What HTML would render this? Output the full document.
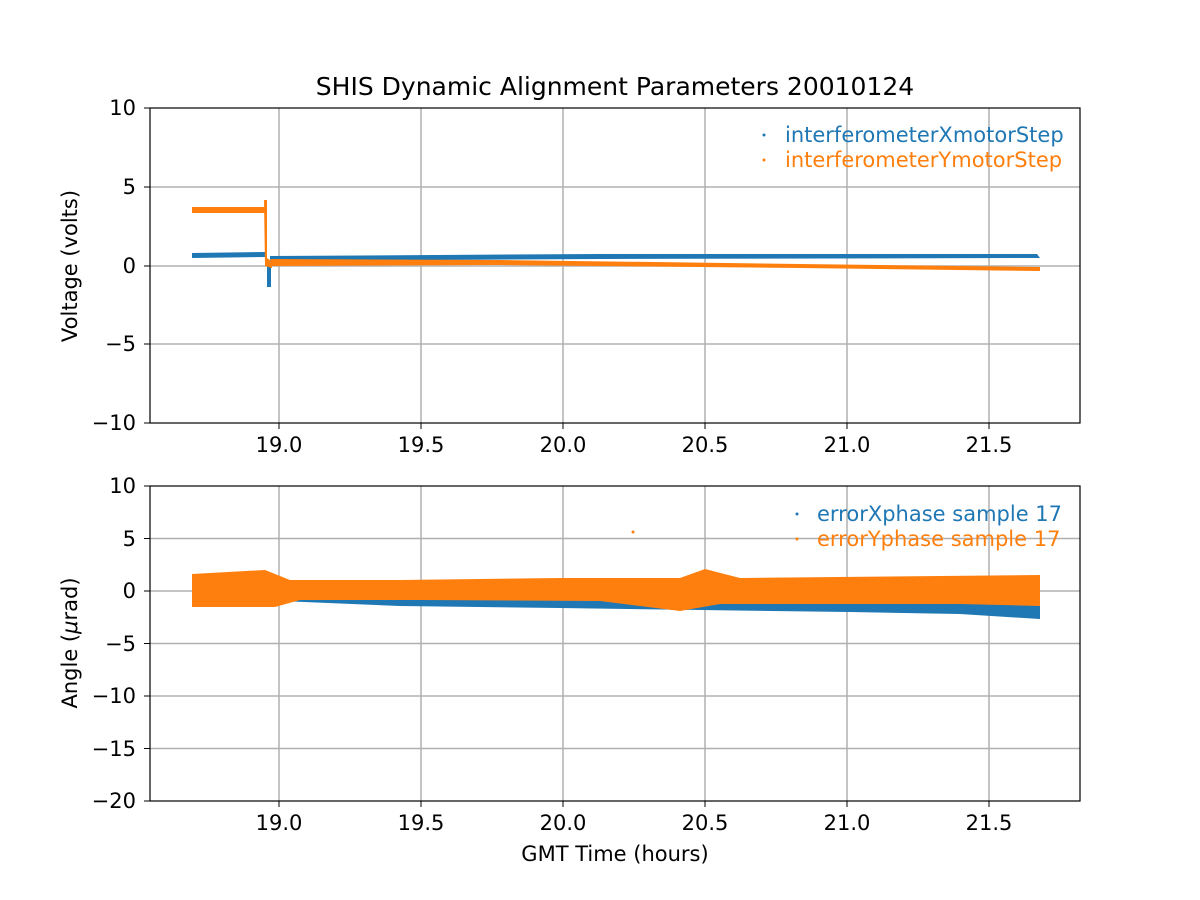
<!DOCTYPE html>
<html><head><meta charset="utf-8"><style>body{margin:0;background:#fff}svg{display:block}text{font-family:"DejaVu Sans","Liberation Sans",sans-serif;fill:#000}</style></head><body>
<svg width="1200" height="900" xmlns="http://www.w3.org/2000/svg">
<rect width="1200" height="900" fill="#fff"/>
<text x="615" y="95" font-size="25" text-anchor="middle">SHIS Dynamic Alignment Parameters 20010124</text>
<g stroke="#b0b0b0" stroke-width="1.5">
<line x1="279" y1="108" x2="279" y2="423"/><line x1="421" y1="108" x2="421" y2="423"/><line x1="563" y1="108" x2="563" y2="423"/><line x1="705" y1="108" x2="705" y2="423"/><line x1="847" y1="108" x2="847" y2="423"/><line x1="989" y1="108" x2="989" y2="423"/>
<line x1="150" y1="187" x2="1080" y2="187"/><line x1="150" y1="266" x2="1080" y2="266"/><line x1="150" y1="344" x2="1080" y2="344"/>
</g>
<polygon points="192,207 265,207 265,213 192,213" fill="#ff7f0e"/>
<polygon points="192,253 265,252 265,257 192,258" fill="#1f77b4"/>
<polygon points="270,256 600,254 1037,254 1040,258 600,259 270,261" fill="#1f77b4"/>
<polygon points="267,262 267,287 271,287 271,262" fill="#1f77b4"/>
<polygon points="270,259 500,260 800,264 1040,267 1040,271 800,268 500,265 272,266" fill="#ff7f0e"/>
<polygon points="264,200 267,200 267,258 272,262 272,268 265,266" fill="#ff7f0e"/>
<rect x="150" y="108" width="930" height="315" fill="none" stroke="#000" stroke-width="1.2"/>
<g font-size="21" text-anchor="end">
<text x="136" y="115">10</text><text x="136" y="194">5</text><text x="136" y="273">0</text><text x="136" y="351">−5</text><text x="136" y="430">−10</text></g>
<g stroke="#000"><line x1="144" y1="108" x2="150" y2="108"/><line x1="144" y1="187" x2="150" y2="187"/><line x1="144" y1="266" x2="150" y2="266"/><line x1="144" y1="344" x2="150" y2="344"/><line x1="144" y1="423" x2="150" y2="423"/>
<line x1="279" y1="423" x2="279" y2="429"/><line x1="421" y1="423" x2="421" y2="429"/><line x1="563" y1="423" x2="563" y2="429"/><line x1="705" y1="423" x2="705" y2="429"/><line x1="847" y1="423" x2="847" y2="429"/><line x1="989" y1="423" x2="989" y2="429"/></g>
<g font-size="21" text-anchor="middle"><text x="279" y="452">19.0</text><text x="421" y="452">19.5</text><text x="563" y="452">20.0</text><text x="705" y="452">20.5</text><text x="847" y="452">21.0</text><text x="989" y="452">21.5</text></g>
<text transform="translate(77,266) rotate(-90)" font-size="21" text-anchor="middle">Voltage (volts)</text>
<circle cx="764" cy="135" r="1.5" fill="#1f77b4"/><text x="785" y="142" font-size="21" style="fill:#1f77b4">interferometerXmotorStep</text>
<circle cx="764" cy="160" r="1.5" fill="#ff7f0e"/><text x="785" y="167" font-size="21" style="fill:#ff7f0e">interferometerYmotorStep</text>
<g stroke="#b0b0b0" stroke-width="1.5">
<line x1="279" y1="486" x2="279" y2="801"/><line x1="421" y1="486" x2="421" y2="801"/><line x1="563" y1="486" x2="563" y2="801"/><line x1="705" y1="486" x2="705" y2="801"/><line x1="847" y1="486" x2="847" y2="801"/><line x1="989" y1="486" x2="989" y2="801"/>
<line x1="150" y1="538.5" x2="1080" y2="538.5"/><line x1="150" y1="591" x2="1080" y2="591"/><line x1="150" y1="643.5" x2="1080" y2="643.5"/><line x1="150" y1="696" x2="1080" y2="696"/><line x1="150" y1="748.5" x2="1080" y2="748.5"/>
</g>
<polygon points="192,590 1040,590 1040,619 960,614 850,612 700,610 560,608 400,606 280,601 192,605" fill="#1f77b4"/>
<polygon points="192,574 265,570 290,580 400,580 560,578 680,578 705,569 740,578 1040,575 1040,606 960,604 720,604 680,611 600,601 420,600 300,600 275,607 192,607" fill="#ff7f0e"/>
<circle cx="633" cy="532" r="1.5" fill="#ff7f0e"/>
<rect x="150" y="486" width="930" height="315" fill="none" stroke="#000" stroke-width="1.2"/>
<g font-size="21" text-anchor="end">
<text x="136" y="493">10</text><text x="136" y="546">5</text><text x="136" y="598">0</text><text x="136" y="651">−5</text><text x="136" y="703">−10</text><text x="136" y="756">−15</text><text x="136" y="808">−20</text></g>
<g stroke="#000"><line x1="144" y1="486" x2="150" y2="486"/><line x1="144" y1="538.5" x2="150" y2="538.5"/><line x1="144" y1="591" x2="150" y2="591"/><line x1="144" y1="643.5" x2="150" y2="643.5"/><line x1="144" y1="696" x2="150" y2="696"/><line x1="144" y1="748.5" x2="150" y2="748.5"/><line x1="144" y1="801" x2="150" y2="801"/>
<line x1="279" y1="801" x2="279" y2="807"/><line x1="421" y1="801" x2="421" y2="807"/><line x1="563" y1="801" x2="563" y2="807"/><line x1="705" y1="801" x2="705" y2="807"/><line x1="847" y1="801" x2="847" y2="807"/><line x1="989" y1="801" x2="989" y2="807"/></g>
<g font-size="21" text-anchor="middle"><text x="279" y="830">19.0</text><text x="421" y="830">19.5</text><text x="563" y="830">20.0</text><text x="705" y="830">20.5</text><text x="847" y="830">21.0</text><text x="989" y="830">21.5</text></g>
<text x="615" y="861" font-size="21" text-anchor="middle">GMT Time (hours)</text>
<text transform="translate(77,643) rotate(-90)" font-size="21" text-anchor="middle">Angle (<tspan font-style="italic">μ</tspan>rad)</text>
<circle cx="797" cy="514" r="1.5" fill="#1f77b4"/><text x="817" y="521" font-size="21" style="fill:#1f77b4">errorXphase sample 17</text>
<circle cx="797" cy="539" r="1.5" fill="#ff7f0e"/><text x="817" y="546" font-size="21" style="fill:#ff7f0e">errorYphase sample 17</text>
</svg>
</body></html>
